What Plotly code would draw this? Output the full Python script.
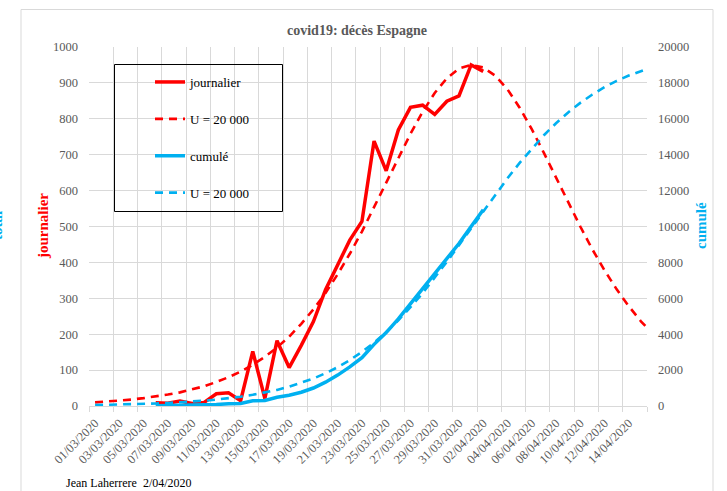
import plotly.graph_objects as go

# ---------------- data ----------------
dates = [
    "01/03/2020", "02/03/2020", "03/03/2020", "04/03/2020", "05/03/2020", "06/03/2020",
    "07/03/2020", "08/03/2020", "09/03/2020", "10/03/2020", "11/03/2020", "12/03/2020",
    "13/03/2020", "14/03/2020", "15/03/2020", "16/03/2020", "17/03/2020", "18/03/2020",
    "19/03/2020", "20/03/2020", "21/03/2020", "22/03/2020", "23/03/2020", "24/03/2020",
    "25/03/2020", "26/03/2020", "27/03/2020", "28/03/2020", "29/03/2020", "30/03/2020",
    "31/03/2020", "01/04/2020", "02/04/2020", "03/04/2020", "04/04/2020", "05/04/2020",
    "06/04/2020", "07/04/2020", "08/04/2020", "09/04/2020", "10/04/2020", "11/04/2020",
    "12/04/2020", "13/04/2020", "14/04/2020", "15/04/2020", "16/04/2020",
]
shown_categories = 46          # 01/03 .. 15/04 on the axis (16/04 is clipped)
observed_first = 5             # observed series start on 06/03/2020

journalier = [9, 8, 14, 7, 10, 34, 37, 15, 152, 21, 182, 107, 169, 235, 324, 394,
              462, 514, 738, 655, 769, 832, 838, 812, 849, 864, 950, 932]
cumule = [10, 17, 28, 35, 47, 84, 121, 136, 288, 309, 491, 598, 767, 1002, 1326, 1720,
          2182, 2696, 3434, 4089, 4858, 5690, 6528, 7340, 8189, 9053, 10003, 10935]

modele_journalier = [10, 12, 15, 18, 22, 26, 32, 38, 46, 55, 67, 80, 96, 115, 137, 163,
                     193, 229, 269, 315, 367, 424, 486, 553, 622, 691, 758, 819, 872, 913,
                     940, 950, 943, 920, 882, 831, 771, 705, 636, 567, 500, 436, 378, 325,
                     278, 236, 200]
modele_cumule = [54, 65, 79, 96, 115, 139, 168, 203, 245, 296, 357, 430, 517, 622, 747, 897,
                 1074, 1285, 1533, 1824, 2165, 2559, 3014, 3534, 4120, 4777, 5502, 6291,
                 7138, 8032, 8960, 9906, 10853, 11784, 12687, 13545, 14346, 15083, 15752,
                 16354, 16887, 17355, 17761, 18113, 18413, 18669, 18886]

left_ticks = [0, 100, 200, 300, 400, 500, 600, 700, 800, 900, 1000]
right_ticks = [0, 2000, 4000, 6000, 8000, 10000, 12000, 14000, 16000, 18000, 20000]

# ---------------- styling ----------------
W, H = 727, 491
ML, MR, MT, MB = 89, 80, 47, 85
PW, PH = W - ML - MR, H - MT - MB
RED = "#FF0000"
CYAN = "#00B0F0"
GRID = "#D9D9D9"
TXT = "#595959"
SERIF = "Liberation Serif, Times New Roman, serif"


def px2x(px):
    return (px - ML) / PW


def py2y(py):
    return (H - MB - py) / PH


x_all = list(range(len(dates)))
x_obs = x_all[observed_first:observed_first + len(journalier)]
label_idx = list(range(0, shown_categories - 1, 2))

fig = go.Figure()

fig.add_trace(go.Scatter(x=x_all, y=modele_cumule, yaxis="y2", mode="lines",
                         name="U = 20 000", legendgroup="g4", legendrank=4,
                         line=dict(color=CYAN, width=2.6, dash="8px,6px")))
fig.add_trace(go.Scatter(x=x_obs, y=cumule, yaxis="y2", mode="lines",
                         name="cumulé", legendgroup="g3", legendrank=3,
                         line=dict(color=CYAN, width=3.5)))
fig.add_trace(go.Scatter(x=x_all, y=modele_journalier, mode="lines",
                         name="U = 20 000", legendgroup="g2", legendrank=2,
                         line=dict(color=RED, width=2.6, dash="8px,6px")))
fig.add_trace(go.Scatter(x=x_obs, y=journalier, mode="lines",
                         name="journalier", legendgroup="g1", legendrank=1,
                         line=dict(color=RED, width=3.5)))

fig.update_layout(
    width=W, height=H,
    margin=dict(l=ML, r=MR, t=MT, b=MB),
    paper_bgcolor="white", plot_bgcolor="white",
    font=dict(family=SERIF, size=12, color=TXT),
    showlegend=True,
    legend=dict(x=px2x(150), y=py2y(67), xanchor="left", yanchor="top",
                bgcolor="rgba(0,0,0,0)", borderwidth=0,
                font=dict(family=SERIF, size=13, color="black"),
                tracegroupgap=17, traceorder="grouped"),
    xaxis=dict(range=[-0.5, shown_categories - 0.5], tickmode="array",
               tickvals=label_idx, ticktext=[dates[i] for i in label_idx],
               tickangle=-45, showgrid=False, zeroline=False,
               showline=True, linecolor=GRID, linewidth=1,
               ticks="", ticklabelstandoff=4,
               tickfont=dict(family=SERIF, size=12.5, color=TXT),
               minor=dict(tickmode="linear", tick0=-0.5, dtick=2, showgrid=True,
                          gridcolor=GRID, gridwidth=1, ticks="outside",
                          ticklen=5, tickcolor=GRID)),
    yaxis=dict(range=[0, 1000], tickmode="array", tickvals=left_ticks,
               showgrid=True, gridcolor=GRID, gridwidth=1, zeroline=False,
               ticks="", ticklabelstandoff=10,
               tickfont=dict(family=SERIF, size=12.5, color=TXT)),
    yaxis2=dict(range=[0, 20000], tickmode="array", tickvals=right_ticks,
                tickformat="d",
                overlaying="y", side="right", showgrid=False, zeroline=False,
                ticks="", ticklabelstandoff=10,
                tickfont=dict(family=SERIF, size=12.5, color=TXT)),
    shapes=[
        dict(type="rect", xref="paper", yref="paper",
             x0=px2x(21), x1=px2x(713), y0=py2y(520), y1=py2y(9.5),
             line=dict(color=GRID, width=1), fillcolor="rgba(0,0,0,0)", layer="below"),
        dict(type="rect", xref="paper", yref="paper",
             x0=px2x(114.5), x1=px2x(282.5), y0=py2y(211.5), y1=py2y(64.5),
             line=dict(color="black", width=1), fillcolor="rgba(0,0,0,0)"),
    ],
    annotations=[
        dict(text="<b>covid19: décès Espagne</b>", xref="paper", yref="paper",
             x=px2x(357), y=py2y(30), showarrow=False, xanchor="center", yanchor="middle",
             font=dict(family=SERIF, size=14, color=TXT)),
        dict(text="<b>journalier</b>", xref="paper", yref="paper",
             x=px2x(43), y=py2y(226), showarrow=False, textangle=-90,
             xanchor="center", yanchor="middle",
             font=dict(family=SERIF, size=15, color=RED)),
        dict(text="<b>cumulé</b>", xref="paper", yref="paper",
             x=px2x(701), y=py2y(226), showarrow=False, textangle=-90,
             xanchor="center", yanchor="middle",
             font=dict(family=SERIF, size=15, color=CYAN)),
        dict(text="<b>total</b>", xref="paper", yref="paper",
             x=px2x(-3), y=py2y(226), showarrow=False, textangle=-90,
             xanchor="center", yanchor="middle",
             font=dict(family=SERIF, size=15, color=CYAN)),
        dict(text="Jean Laherrere  2/04/2020", xref="paper", yref="paper",
             x=px2x(64), y=py2y(483), showarrow=False, xanchor="left", yanchor="middle",
             font=dict(family=SERIF, size=12, color="black")),
    ],
)

fig.write_html("out.html",
               config={"displayModeBar": False},
               post_script="document.body.style.margin='0';document.body.style.overflow='hidden';")
